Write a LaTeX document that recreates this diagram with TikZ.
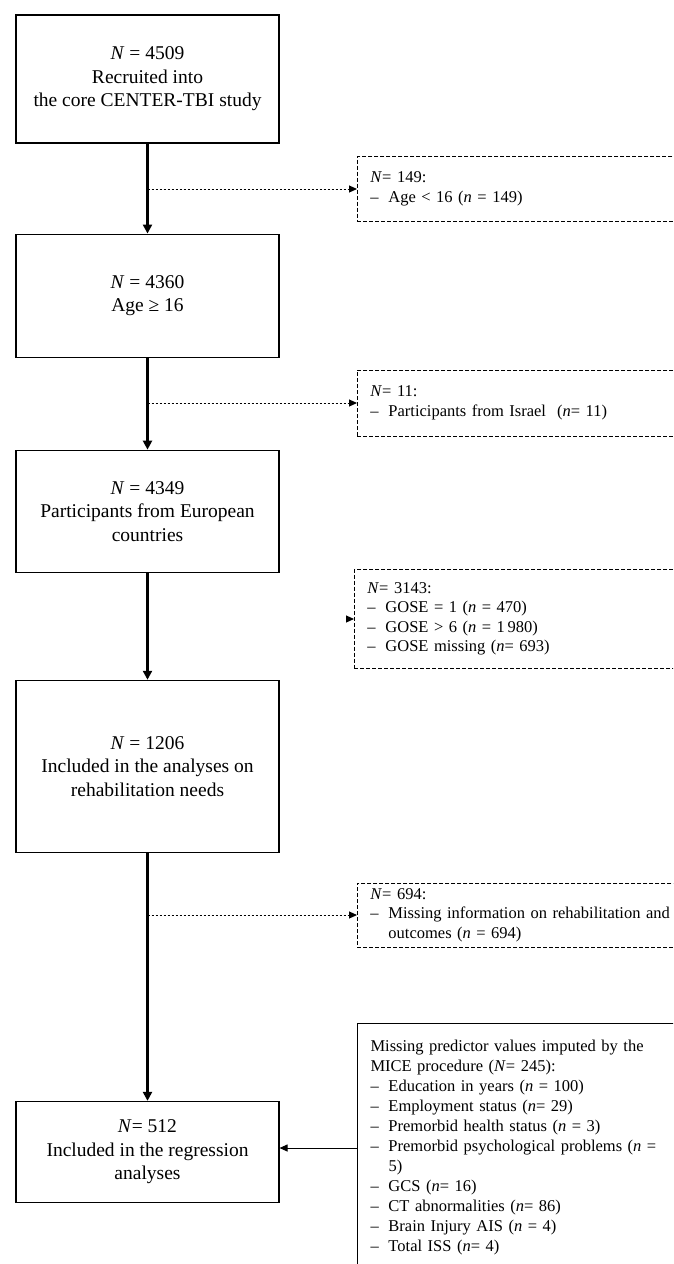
\documentclass[tikz,border=0pt]{standalone}
\usepackage{fontspec}
\setmainfont{Liberation Serif}
\usepackage{tikz}
\usetikzlibrary{arrows.meta,positioning}
\newcommand{\Nall}{\textit{N}}
\newcommand{\npart}{\textit{n}}
\newcommand{\dashitem}{\makebox[18pt][l]{--}}
\newcommand{\contline}{\hspace*{18pt}}

\begin{document}
\begin{tikzpicture}[x=1pt,y=-1pt,>={Triangle[length=8pt,width=7pt]},
  mainbox/.style={draw, line width=1.1pt, minimum width=263pt, align=center, font=\fontsize{19.5}{23.5}\selectfont},
  exclbox/.style={draw, dash pattern=on 4pt off 2pt, line width=0.9pt, text width=330pt, inner xsep=13pt, align=left, font=\fontsize{16.5}{19.5}\selectfont},
  addbox/.style={draw, line width=1pt, text width=330pt, inner xsep=13pt, align=left, font=\fontsize{16.5}{20}\selectfont},
  trunk/.style={-{Triangle[length=9pt,width=9pt]}, line width=2.2pt},
  exclarrow/.style={->, line width=1pt, dash pattern=on 2.5pt off 1.5pt}]
\useasboundingbox (0,0) rectangle (673,1264);
\clip (0,0) rectangle (673,1264);

% main flow
\node (box1) [mainbox, minimum height=128pt] at (147.5,79) {\Nall{} = 4509\\ Recruited into\\ the core CENTER-TBI study};
\node (box2) [mainbox, minimum height=123pt, below=90pt of box1] {\Nall{} = 4360\\ Age ≥ 16};
\node (box3) [mainbox, minimum height=122pt, below=92pt of box2] {\Nall{} = 4349\\ Participants from European\\ countries};
\node (box4) [mainbox, minimum height=172pt, below=107pt of box3] {\Nall{} = 1206\\ Included in the analyses on\\ rehabilitation needs};
\node (box5) [mainbox, minimum height=101pt, below=248pt of box4] {\Nall= 512\\ Included in the regression\\ analyses};

% exclusions
\node (exclA) [exclbox, anchor=west, minimum height=65pt] at (357,189) {\Nall= 149:\\ \dashitem Age < 16 (\npart{} = 149)};
\node (exclB) [exclbox, anchor=west, minimum height=66pt] at (357,403) {\Nall= 11:\\ \dashitem Participants from Israel\ \ (\npart= 11)};
\node (exclC) [exclbox, anchor=west, minimum height=99pt] at (354,619) {\Nall= 3143:\\ \dashitem GOSE = 1 (\npart{} = 470)\\ \dashitem GOSE > 6 (\npart{} = 1\,980)\\ \dashitem GOSE missing (\npart= 693)};
\node (exclD) [exclbox, anchor=west, minimum height=64pt] at (357,915) {\Nall= 694:\\ \dashitem Missing information on rehabilitation and\\ \contline outcomes (\npart{} = 694)};

% imputed predictors
\node (imput) [addbox, anchor=north west, minimum height=249pt] at (357,1023) {Missing predictor values imputed by the\\
  MICE procedure (\Nall= 245):\\
  \dashitem Education in years (\npart{} = 100)\\
  \dashitem Employment status (\npart= 29)\\
  \dashitem Premorbid health status (\npart{} = 3)\\
  \dashitem Premorbid psychological problems (\npart{} =\\
  \contline 5)\\
  \dashitem GCS (\npart= 16)\\
  \dashitem CT abnormalities (\npart= 86)\\
  \dashitem Brain Injury AIS (\npart{} = 4)\\
  \dashitem Total ISS (\npart= 4)};

\draw[trunk] (box1) -- (box2);
\draw[trunk] (box2) -- (box3);
\draw[trunk] (box3) -- (box4);
\draw[trunk] (box4) -- (box5);

\draw[exclarrow] (box1.south |- exclA.west) -- (exclA.west);
\draw[exclarrow] (box2.south |- exclB.west) -- (exclB.west);
\coordinate (stubC) at ([xshift=-8pt]exclC.west);
\draw[exclarrow] (stubC) -- (exclC.west);
\draw[exclarrow] (box4.south |- exclD.west) -- (exclD.west);

\draw[->, line width=1pt] (imput.west) -- (box5.east |- imput.west);
\end{tikzpicture}
\end{document}
